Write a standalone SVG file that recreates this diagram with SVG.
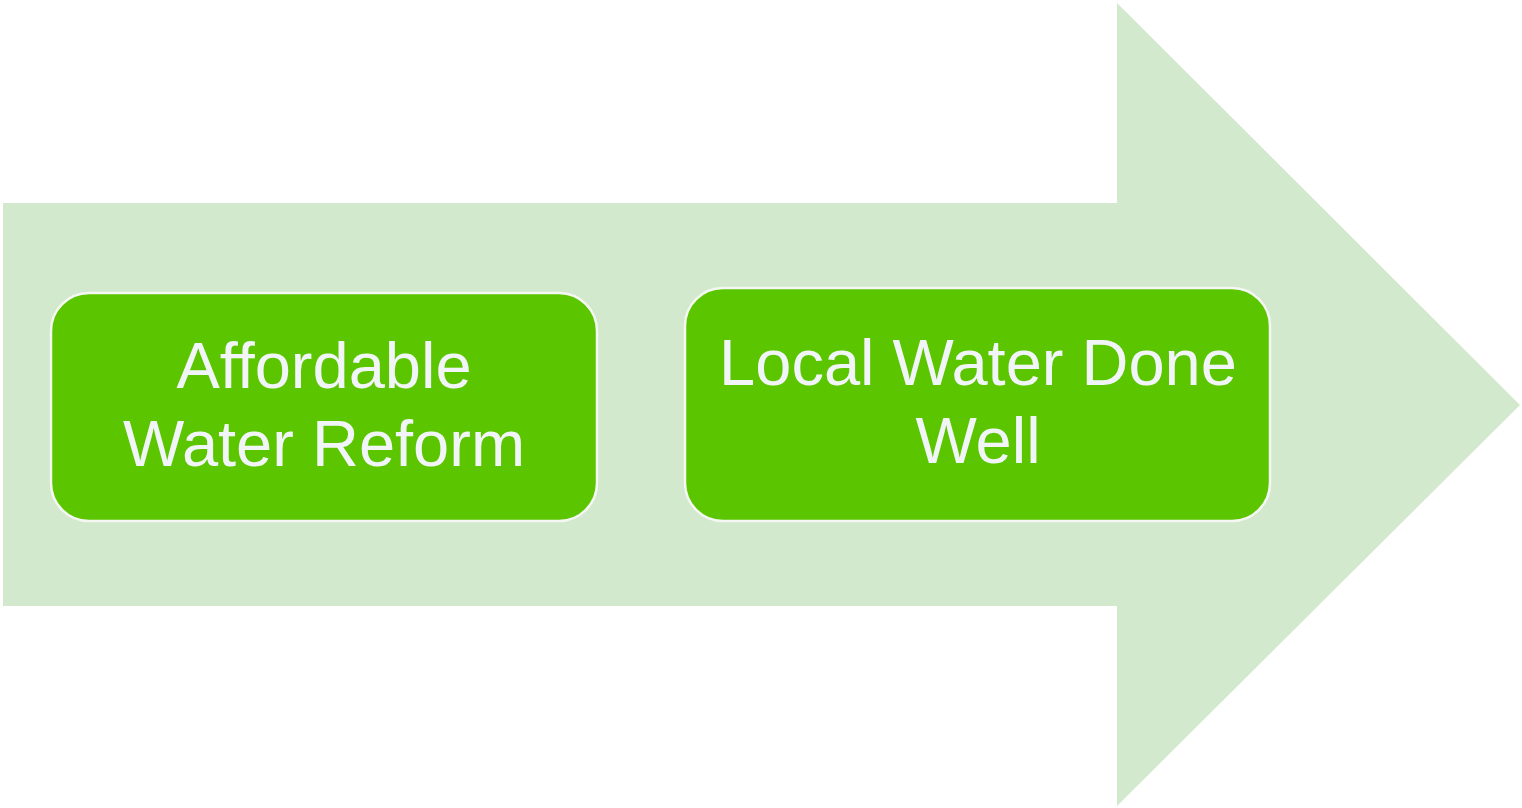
<svg xmlns="http://www.w3.org/2000/svg" width="1522" height="808" viewBox="0 0 1522 808">
<style>
.node rect{fill:#5BC500;stroke:#F4F7F2;stroke-width:2.5}
.node text{font-family:"Liberation Sans",Arial,sans-serif;font-size:65px;fill:#F2F5F7;text-anchor:middle}
</style>
<rect width="1522" height="808" fill="#FFFFFF"/>
<g id="arrow">
<polygon points="3,203 1117,203 1117,3 1520,405 1117,806 1117,606 3,606" fill="#D3E9CD"/>
</g>
<g id="node1" class="node">
<rect x="51" y="293" width="546" height="228" rx="38" ry="38"/>
<text x="324" y="388">Affordable</text>
<text x="324" y="466">Water Reform</text>
</g>
<g id="node2" class="node">
<rect x="685" y="288" width="585" height="233" rx="38" ry="38"/>
<text x="978" y="385">Local Water Done</text>
<text x="978" y="463">Well</text>
</g>
<g id="connectors"></g>
</svg>
